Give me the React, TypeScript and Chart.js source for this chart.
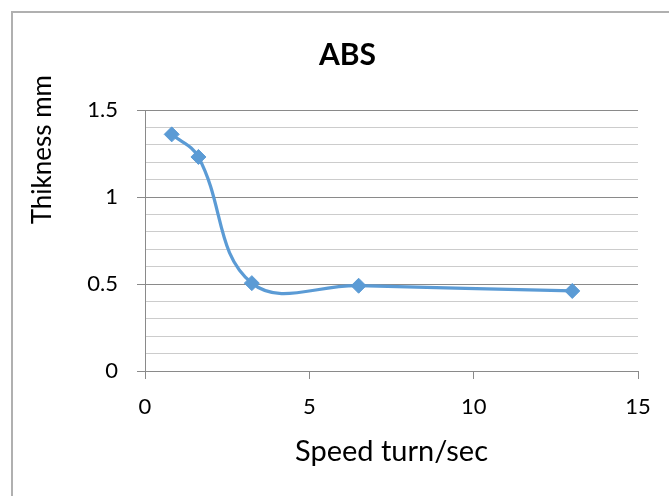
import React, { useEffect, useRef } from "react";
import { Chart, registerables } from "chart.js";

Chart.register(...registerables);

const chartTitle = "ABS";
const xTitle = "Speed turn/sec";
const yTitle = "Thikness mm";
const speeds = [0.8125, 1.625, 3.25, 6.5, 13];
const thickness = [1.36, 1.23, 0.505, 0.49, 0.46];
const yMajorTicks = [0, 0.5, 1, 1.5];
const xTickStep = 5;

const FONT = "Lato, 'Open Sans', sans-serif";
const MAJOR = "#8a8a8a";
const MINOR = "#cccccc";
const LINE = "#5B9BD5";

const isMajor = (v: number) => yMajorTicks.some((t) => Math.abs(t - v) < 1e-6);

export default function App() {
  const ref = useRef<HTMLCanvasElement>(null);

  useEffect(() => {
    if (!ref.current) return;
    const yTitlePlugin = {
      id: "yTitleCustom",
      afterDraw(chart: any) {
        const ctx = chart.ctx;
        ctx.save();
        ctx.translate(29.5, 136.7);
        ctx.rotate(-Math.PI / 2);
        ctx.font = `26px ${FONT}`;
        ctx.fillStyle = "#000";
        ctx.textAlign = "center";
        ctx.textBaseline = "middle";
        ctx.fillText(yTitle, 0, 0);
        ctx.restore();
      },
    };
    const chart = new Chart(ref.current, {
      type: "line",
      data: {
        datasets: [
          {
            data: speeds.map((x, i) => ({ x, y: thickness[i] })),
            borderColor: LINE,
            backgroundColor: LINE,
            borderWidth: 3.25,
            tension: 0.4,
            pointStyle: "rectRot",
            pointRadius: 7.5,
            pointBorderWidth: 1,
            pointBackgroundColor: LINE,
            pointBorderColor: LINE,
          },
        ],
      },
      options: {
        animation: false,
        responsive: false,
        layout: { padding: { left: 44, right: 44, top: 0, bottom: 0 } },
        plugins: {
          legend: { display: false },
          tooltip: { enabled: false },
          title: {
            display: true,
            text: chartTitle,
            color: "#000",
            font: { family: FONT, size: 30, weight: "bold" },
            padding: { top: 24, bottom: 37 },
          },
        },
        scales: {
          x: {
            type: "linear",
            position: "bottom",
            min: 0,
            max: 15,
            ticks: {
              stepSize: xTickStep,
              color: "#000",
              font: { family: FONT, size: 22 },
              padding: 15,
              maxRotation: 0,
            },
            grid: {
              drawOnChartArea: false,
              drawTicks: true,
              tickLength: 8,
              color: MAJOR,
            },
            border: { display: true, color: MAJOR },
            title: {
              display: true,
              text: xTitle,
              color: "#000",
              font: { family: FONT, size: 29 },
              padding: { top: 0, bottom: 27 },
            },
            afterFit: (s: any) => {
              s.height = 125;
            },
          },
          y: {
            type: "linear",
            min: 0,
            max: 1.5,
            ticks: {
              stepSize: 0.1,
              autoSkip: false,
              color: "#000",
              font: { family: FONT, size: 22 },
              padding: 19,
              callback: (v: any) => (isMajor(Number(v)) ? String(Number(Number(v).toFixed(1))) : ""),
            },
            grid: {
              drawTicks: true,
              tickLength: 8,
              color: (c: any) => (isMajor(c.tick.value) ? MAJOR : MINOR),
              tickColor: (c: any) => (isMajor(c.tick.value) ? MAJOR : "rgba(0,0,0,0)"),
            },
            border: { display: true, color: MAJOR },
            afterFit: (s: any) => {
              s.width = 88;
            },
          },
        },
      },
      plugins: [yTitlePlugin],
    });
    return () => chart.destroy();
  }, []);

  return (
    <div
      style={{
        position: "absolute",
        left: 11,
        top: 11,
        width: 658,
        height: 485,
        overflow: "hidden",
        boxSizing: "border-box",
        borderLeft: "2px solid #b0b0b0",
        borderTop: "2px solid #b0b0b0",
        background: "#fff",
      }}
    >
      <canvas ref={ref} width={669} height={483} style={{ display: "block" }} />
    </div>
  );
}
